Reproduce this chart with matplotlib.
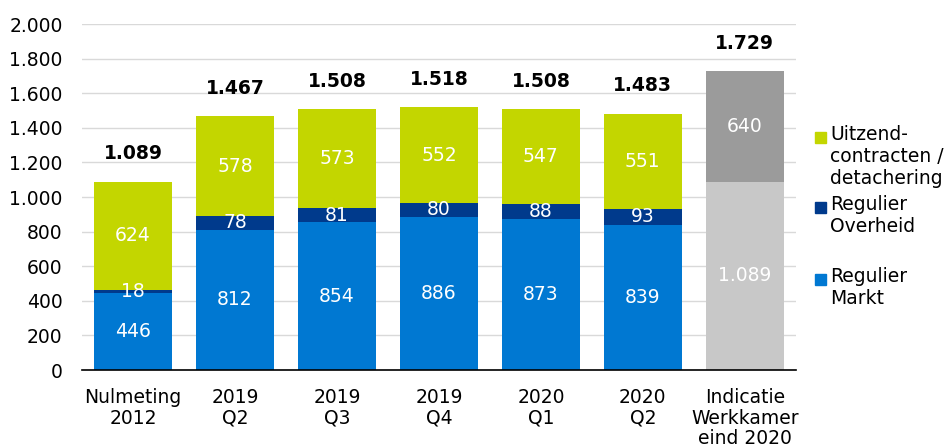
import matplotlib
matplotlib.use("Agg")
from matplotlib import pyplot as plt
from matplotlib.patches import Rectangle
from matplotlib.ticker import FuncFormatter

#Data
categories = ["Nulmeting\n2012", "2019\nQ2", "2019\nQ3", "2019\nQ4", "2020\nQ1", "2020\nQ2",
              "Indicatie\nWerkkamer\neind 2020"]
markt = [446, 812, 854, 886, 873, 839]
overheid = [18, 78, 81, 80, 88, 93]
uitzend = [624, 578, 573, 552, 547, 551]
totals = [1089, 1467, 1508, 1518, 1508, 1483]
indicatie_basis = 1089
indicatie_extra = 640
indicatie_totaal = 1729

c_markt = "#0078D2"
c_overheid = "#003A8C"
c_uitzend = "#C3D600"
c_lgray = "#C8C8C8"
c_dgray = "#9B9B9B"

def nl(v):
    return f"{int(v):,}".replace(",", ".")

plt.rcParams['font.family'] = ['DejaVu Sans']
fs = 13.5

fig = plt.figure(figsize=(9.44, 4.46), dpi=100)
ax = fig.add_axes([0.087, 0.1704, 0.756, 0.7756])

x = list(range(len(markt)))
w = 0.77
bottom2 = [m + o for m, o in zip(markt, overheid)]
b1 = ax.bar(x, markt, w, color=c_markt, zorder=2)
b2 = ax.bar(x, overheid, w, bottom=markt, color=c_overheid, zorder=2)
b3 = ax.bar(x, uitzend, w, bottom=bottom2, color=c_uitzend, zorder=2)

xi = len(markt)
g1 = ax.bar([xi], [indicatie_basis], w, color=c_lgray, zorder=2)
g2 = ax.bar([xi], [indicatie_extra], w, bottom=[indicatie_basis], color=c_dgray, zorder=2)

#Segment labels
for bars, vals in [(b1, markt), (b2, overheid), (b3, uitzend), (g1, [indicatie_basis]), (g2, [indicatie_extra])]:
    ax.bar_label(bars, labels=[nl(v) for v in vals], label_type='center', color='white', fontsize=fs)

#Totals
for xp, t in zip(x + [xi], totals + [indicatie_totaal]):
    ax.annotate(nl(t), (xp, t), xytext=(0, 20), textcoords='offset points',
                ha='center', va='center', fontsize=fs, fontweight='bold')

ax.set_xlim(-0.5, 6.5)
ax.set_ylim(0, 2000)
ax.set_yticks(range(0, 2001, 200))
ax.yaxis.set_major_formatter(FuncFormatter(lambda v, p: nl(v)))
ax.set_xticks(range(len(categories)))
ax.set_xticklabels(categories, fontsize=fs, linespacing=1.1)
ax.tick_params(axis='y', labelsize=fs, length=0, pad=14)
ax.tick_params(axis='x', length=0, pad=13)
ax.grid(axis='y', color='#D9D9D9', linewidth=1, zorder=0)
for s in ['top', 'right', 'left']:
    ax.spines[s].set_visible(False)
ax.spines['bottom'].set_color('black')
ax.spines['bottom'].set_linewidth(1.2)
ax.spines['bottom'].set_zorder(3)

#Legend
legend_items = [(c_uitzend, "Uitzend-\ncontracten /\ndetachering", 137),
                (c_overheid, "Regulier\nOverheid", 207),
                (c_markt, "Regulier\nMarkt", 279)]
H = 446.0
W = 944.0
for col, lab, yc in legend_items:
    fig.add_artist(Rectangle((815 / W, 1 - (yc + 5.5) / H), 11 / W, 11 / H,
                             transform=fig.transFigure, color=col))
    fig.text(830 / W, 1 - (yc - 12) / H, lab, fontsize=fs, va='top', ha='left', linespacing=1.2)

fig.savefig("out.png", dpi=100)
